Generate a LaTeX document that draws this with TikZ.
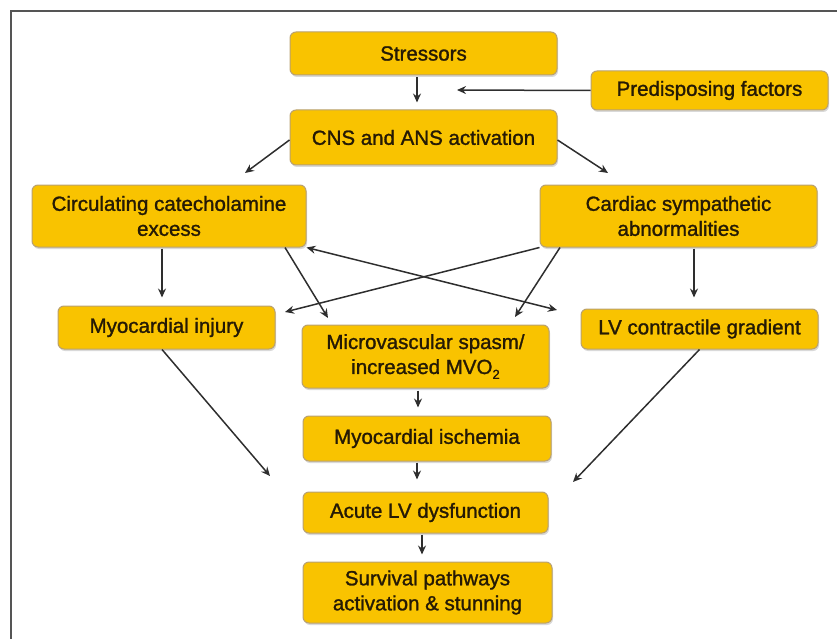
\documentclass[tikz,border=0pt]{standalone}
\usepackage{fontspec}
\setmainfont{Liberation Sans}[FakeBold=1.3]
\usetikzlibrary{arrows.meta,shadows}
\definecolor{boxfill}{HTML}{F9C300}
\definecolor{boxline}{HTML}{B9A171}
\definecolor{arrcol}{HTML}{2E2E2E}
\definecolor{txtcol}{HTML}{251A05}
\definecolor{framecol}{HTML}{555555}
\tikzset{
  box/.style={draw=boxline, fill=boxfill, rounded corners=6pt, line width=1pt,
    text=txtcol, font=\fontsize{20.5}{25}\selectfont, align=center, inner sep=0pt,
    drop shadow={shadow xshift=1pt, shadow yshift=-2pt, opacity=0.3}},
  tipstyle/.style={},
  arr/.style={draw=arrcol, line width=1.5pt, -{Stealth[length=9pt,width=8pt,inset=3pt]}},
  arrboth/.style={draw=arrcol, line width=1.5pt, {Stealth[length=9pt,width=8pt,inset=3pt]}-{Stealth[length=9pt,width=8pt,inset=3pt]}}
}
\begin{document}
\begin{tikzpicture}[x=1pt,y=-1pt]
\useasboundingbox (0,0) rectangle (837,639);
\draw[framecol, line width=1.8pt] (11,639) -- (11,11) -- (837,11);

\node[box, minimum width=267pt, minimum height=43pt] (stress) at (423.5,53.5) {Stressors};
\node[box, minimum width=237pt, minimum height=39pt] (pred) at (709.5,90.5) {Predisposing factors};
\node[box, minimum width=267pt, minimum height=55pt] (cns) at (423.5,137.5) {CNS and ANS activation};
\node[box, minimum width=274pt, minimum height=62pt] (circ) at (169,216) {Circulating catecholamine\\excess};
\node[box, minimum width=277pt, minimum height=62pt] (card) at (678.5,216) {Cardiac sympathetic\\abnormalities};
\node[box, minimum width=217pt, minimum height=43pt] (myo) at (166.5,327.5) {Myocardial injury};
\node[box, minimum width=247pt, minimum height=63pt] (micro) at (425.5,356.5) {Microvascular spasm/\\increased MVO\raisebox{-0.45ex}{\fontsize{13}{13}\selectfont 2}};
\node[box, minimum width=237pt, minimum height=40pt] (lv) at (699.5,329) {LV contractile gradient};
\node[box, minimum width=248pt, minimum height=45pt] (isch) at (427,438.5) {Myocardial ischemia};
\node[box, minimum width=245pt, minimum height=41pt] (acute) at (425.5,512.5) {Acute LV dysfunction};
\node[box, minimum width=249pt, minimum height=61pt] (surv) at (427.5,592.5) {Survival pathways\\activation \& stunning};

\coordinate (pj) at (457,90);
\coordinate (c1) at (245,173);
\coordinate (c2) at (608,173);
\coordinate (c3) at (328,318);
\coordinate (c4) at (557,310);
\coordinate (c5) at (285,312);
\coordinate (c6) at (515,317);
\coordinate (c7) at (270,476);
\coordinate (c8) at (573,482);

\draw[arr, shorten <=2pt, shorten >=7pt] (417,0 |- stress.south) -- (417,0 |- cns.north);
\draw[arr] (pred.west) -- (pj);
\draw[arr] ([yshift=-2.5pt]cns.west) -- (c1);
\draw[arr] ([yshift=-2.5pt]cns.east) -- (c2);
\draw[arr, shorten <=1pt, shorten >=8pt] (162,0 |- circ.south) -- (162,0 |- myo.north);
\draw[arr] (285,0 |- circ.south) -- (c3);
\draw[arrboth] (circ.south east) -- (c4);
\draw[arr] (card.south west) -- (c5);
\draw[arr] (560,0 |- card.south) -- (c6);
\draw[arr, shorten <=1pt, shorten >=11pt] (694,0 |- card.south) -- (694,0 |- lv.north);
\draw[arr] (162,0 |- myo.south) -- (c7);
\draw[arr] (lv.south) -- (c8);
\draw[arr, shorten <=2pt, shorten >=8pt] (418,0 |- micro.south) -- (418,0 |- isch.north);
\draw[arr, shorten <=1pt, shorten >=12pt] (417,0 |- isch.south) -- (417,0 |- acute.north);
\draw[arr, shorten <=1pt, shorten >=7pt] (422,0 |- acute.south) -- (422,0 |- surv.north);
\end{tikzpicture}
\end{document}
